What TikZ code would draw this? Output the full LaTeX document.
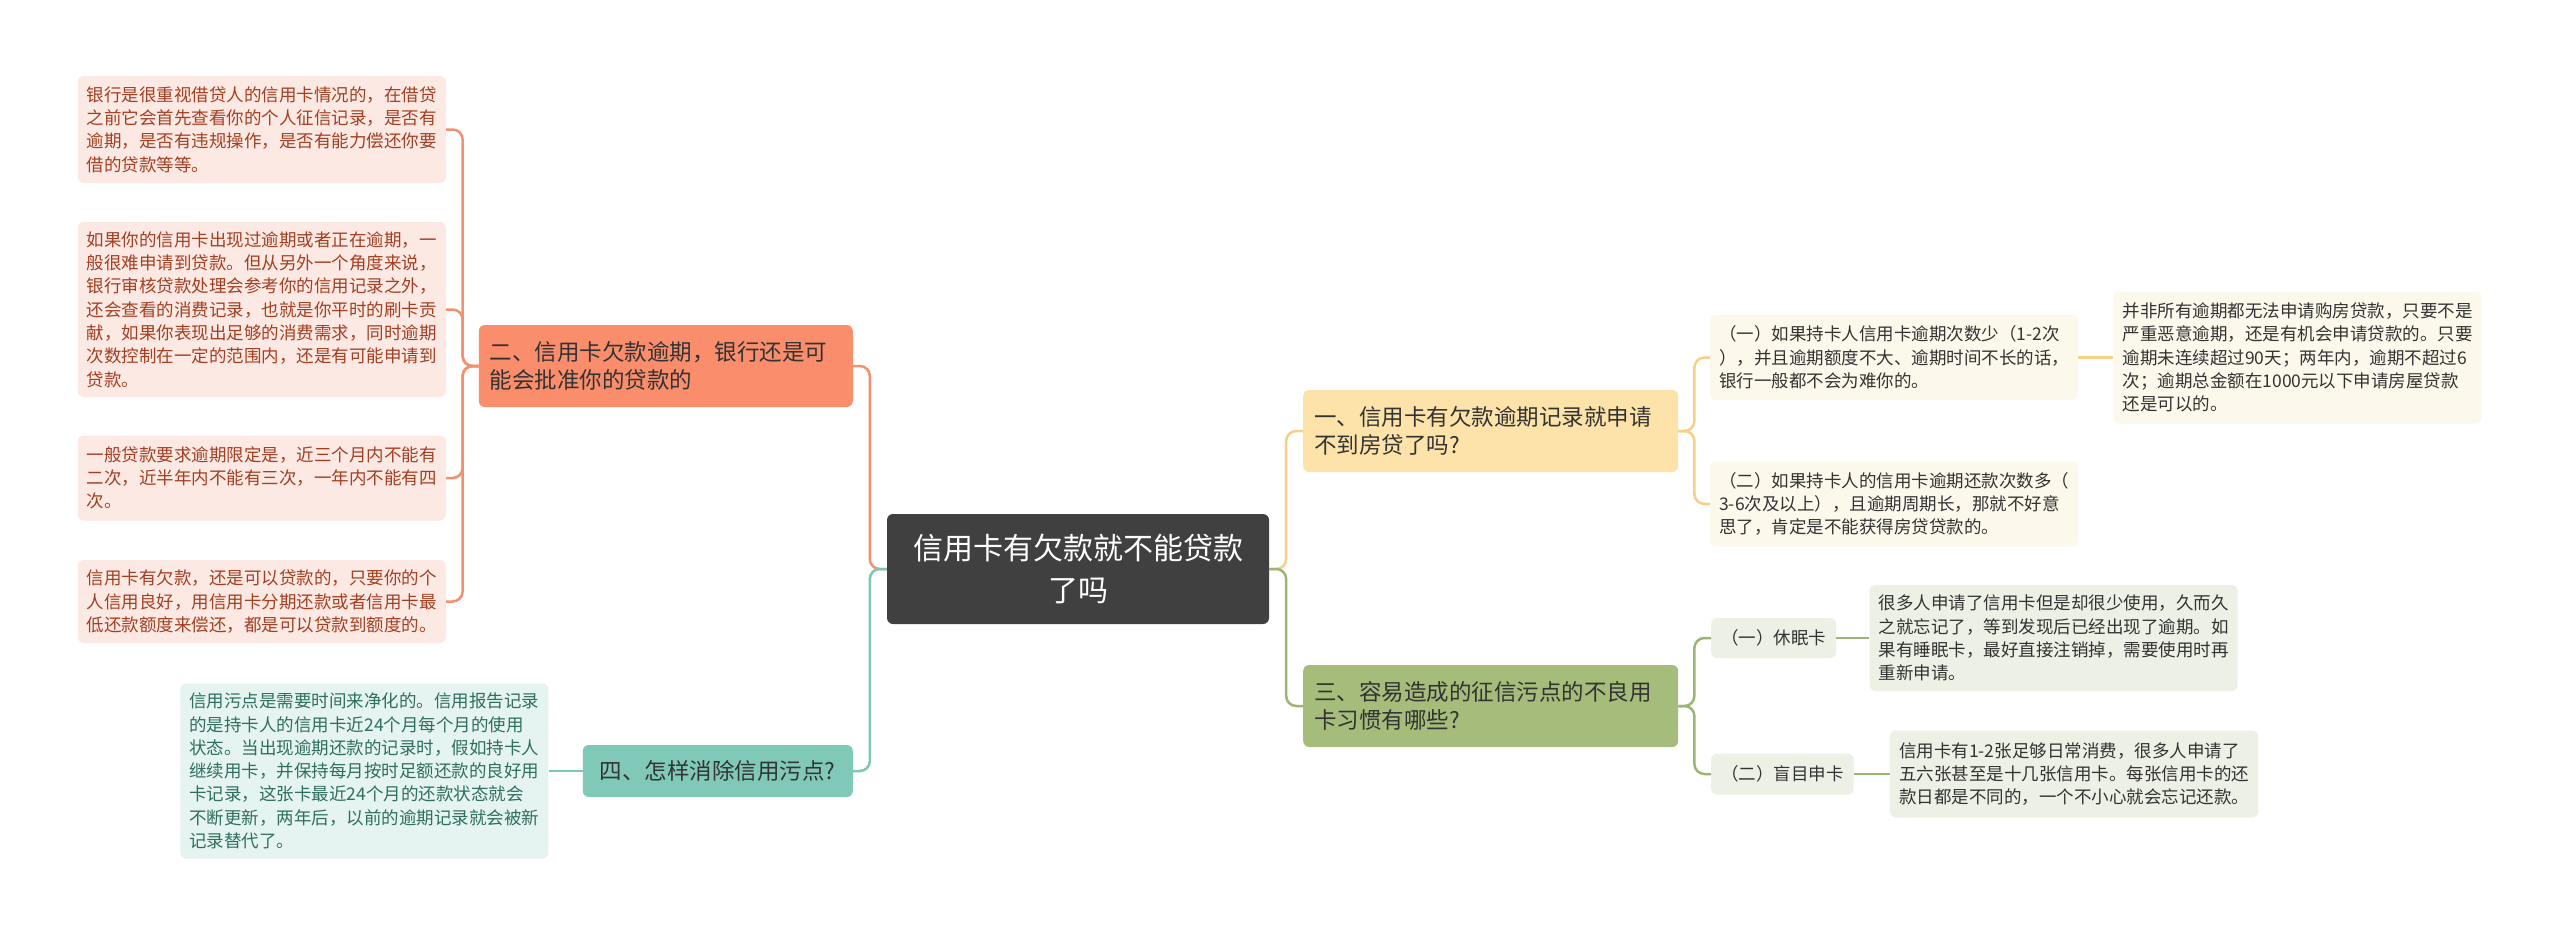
\documentclass[tikz,border=0pt]{standalone}
\usepackage{fontspec}
\newfontfamily\cjk{Noto Sans CJK SC}
\usetikzlibrary{positioning}
\definecolor{rootGray}{HTML}{404040}
\definecolor{textDark}{HTML}{333333}
\definecolor{redFill}{HTML}{F98D6C}
\definecolor{redLeaf}{HTML}{FDE9E3}
\definecolor{redText}{HTML}{A23F22}
\definecolor{redLine}{HTML}{F3906F}
\definecolor{yellowFill}{HTML}{FDE3A9}
\definecolor{yellowLeaf}{HTML}{FCF8EC}
\definecolor{yellowLine}{HTML}{F7CF87}
\definecolor{greenFill}{HTML}{A5BC7A}
\definecolor{greenLeaf}{HTML}{EDF0E4}
\definecolor{greenLine}{HTML}{9DB574}
\definecolor{tealFill}{HTML}{80C9B9}
\definecolor{tealLeaf}{HTML}{E5F4F0}
\definecolor{tealText}{HTML}{2F6E60}
\definecolor{tealLine}{HTML}{80C6B6}
\tikzset{
  rootbox/.style = {rectangle, rounded corners=6pt, fill=rootGray,
                    text=white, align=center, inner sep=0pt,
                    minimum width=382pt, minimum height=110pt,
                    font=\cjk\fontsize{30}{42}\selectfont},
  branch/.style  = {rectangle, rounded corners=6pt, text=textDark,
                    align=left, inner xsep=11pt, inner ysep=0pt,
                    minimum height=82pt,
                    font=\cjk\fontsize{22.5}{28.5}\selectfont},
  leaf/.style    = {rectangle, rounded corners=6pt, text=textDark,
                    align=left, inner xsep=9pt, inner ysep=0pt,
                    font=\cjk\fontsize{17.5}{23.3}\selectfont},
  link/.style    = {line width=2.5pt, rounded corners=10pt}
}
\begin{document}
\begin{tikzpicture}[x=1pt, y=-1pt]
  \fill[white] (0,0) rectangle (2560,935);
  \useasboundingbox (0,0) rectangle (2560,935);
  % central topic
  \node[rootbox] (root) at (1078,569) {信用卡有欠款就不能贷款\\了吗};
  % main branches
  \node[branch, fill=redFill, text width=352pt, anchor=east] (b2) at (853,366)
       {二、信用卡欠款逾期，银行还是可\\能会批准你的贷款的};
  \node[branch, fill=tealFill, minimum width=270pt, minimum height=52pt,
        anchor=east] (b4) at (853,771) {四、怎样消除信用污点?};
  \node[branch, fill=yellowFill, text width=353pt, anchor=west] (b1) at (1303,431)
       {一、信用卡有欠款逾期记录就申请\\不到房贷了吗?};
  \node[branch, fill=greenFill, text width=353pt, anchor=west] (b3) at (1303,706)
       {三、容易造成的征信污点的不良用\\卡习惯有哪些?};
  % left leaves of branch 二
  \node[leaf, fill=redLeaf, text=redText, minimum height=107pt, anchor=east]
       (l1) at (446,129.5)
       {银行是很重视借贷人的信用卡情况的，在借贷\\之前它会首先查看你的个人征信记录，是否有\\逾期，是否有违规操作，是否有能力偿还你要\\借的贷款等等。};
  \node[leaf, fill=redLeaf, text=redText, minimum height=175pt, anchor=east]
       (l2) at (446,309.5)
       {如果你的信用卡出现过逾期或者正在逾期，一\\般很难申请到贷款。但从另外一个角度来说，\\银行审核贷款处理会参考你的信用记录之外，\\还会查看的消费记录，也就是你平时的刷卡贡\\献，如果你表现出足够的消费需求，同时逾期\\次数控制在一定的范围内，还是有可能申请到\\贷款。};
  \node[leaf, fill=redLeaf, text=redText, minimum height=85pt, anchor=east]
       (l3) at (446,478)
       {一般贷款要求逾期限定是，近三个月内不能有\\二次，近半年内不能有三次，一年内不能有四\\次。};
  \node[leaf, fill=redLeaf, text=redText, minimum height=83pt, anchor=east]
       (l4) at (446,601.5)
       {信用卡有欠款，还是可以贷款的，只要你的个\\人信用良好，用信用卡分期还款或者信用卡最\\低还款额度来偿还，都是可以贷款到额度的。};
  % leaf of branch 四
  \node[leaf, fill=tealLeaf, text=tealText, minimum height=175pt,
        left=34pt of b4] (l5)
       {信用污点是需要时间来净化的。信用报告记录\\的是持卡人的信用卡近24个月每个月的使用\\状态。当出现逾期还款的记录时，假如持卡人\\继续用卡，并保持每月按时足额还款的良好用\\卡记录，这张卡最近24个月的还款状态就会\\不断更新，两年后，以前的逾期记录就会被新\\记录替代了。};
  % sub-topics of branch 一
  \node[leaf, fill=yellowLeaf, minimum height=85pt, anchor=west] (s1) at (1710,357.5)
       {（一）如果持卡人信用卡逾期次数少（1-2次\\），并且逾期额度不大、逾期时间不长的话，\\银行一般都不会为难你的。};
  \node[leaf, fill=yellowLeaf, minimum height=85pt, anchor=west] (s2) at (1710,504)
       {（二）如果持卡人的信用卡逾期还款次数多（\\3-6次及以上），且逾期周期长，那就不好意\\思了，肯定是不能获得房贷贷款的。};
  \node[leaf, fill=yellowLeaf, minimum height=132pt, right=35pt of s1] (t1)
       {并非所有逾期都无法申请购房贷款，只要不是\\严重恶意逾期，还是有机会申请贷款的。只要\\逾期未连续超过90天；两年内，逾期不超过6\\次；逾期总金额在1000元以下申请房屋贷款\\还是可以的。};
  % sub-topics of branch 三
  \node[leaf, fill=greenLeaf, minimum height=40pt, inner xsep=10pt, anchor=west]
       (c1) at (1711,638) {（一）休眠卡};
  \node[leaf, fill=greenLeaf, minimum height=106pt, right=33pt of c1] (u1)
       {很多人申请了信用卡但是却很少使用，久而久\\之就忘记了，等到发现后已经出现了逾期。如\\果有睡眠卡，最好直接注销掉，需要使用时再\\重新申请。};
  \node[leaf, fill=greenLeaf, minimum height=41pt, inner xsep=10pt, anchor=west]
       (c2) at (1711,774) {（二）盲目申卡};
  \node[leaf, fill=greenLeaf, minimum height=87pt, right=36pt of c2] (u2)
       {信用卡有1-2张足够日常消费，很多人申请了\\五六张甚至是十几张信用卡。每张信用卡的还\\款日都是不同的，一个不小心就会忘记还款。};
  % connectors from the central topic
  \foreach \b/\c in {b2/redLine, b4/tealLine}
    \draw[link, draw=\c] (root.west) -- ++(-17,0) |- (\b.east);
  \foreach \b/\c in {b1/yellowLine, b3/greenLine}
    \draw[link, draw=\c] (root.east) -- ++(17,0) |- (\b.west);
  % connectors inside the branches
  \foreach \n in {l1, l2, l3, l4}
    \draw[link, draw=redLine] (b2.west) -- ++(-16,0) |- (\n.east);
  \draw[link, draw=tealLine] (b4.west) -- (l5.east);
  \foreach \n in {s1, s2}
    \draw[link, draw=yellowLine] (b1.east) -- ++(16,0) |- (\n.west);
  \draw[link, draw=yellowLine] (s1.east) -- (t1.west);
  \foreach \n in {c1, c2}
    \draw[link, draw=greenLine] (b3.east) -- ++(16,0) |- (\n.west);
  \draw[link, draw=greenLine] (c1.east) -- (u1.west);
  \draw[link, draw=greenLine] (c2.east) -- (u2.west);
\end{tikzpicture}
\end{document}
